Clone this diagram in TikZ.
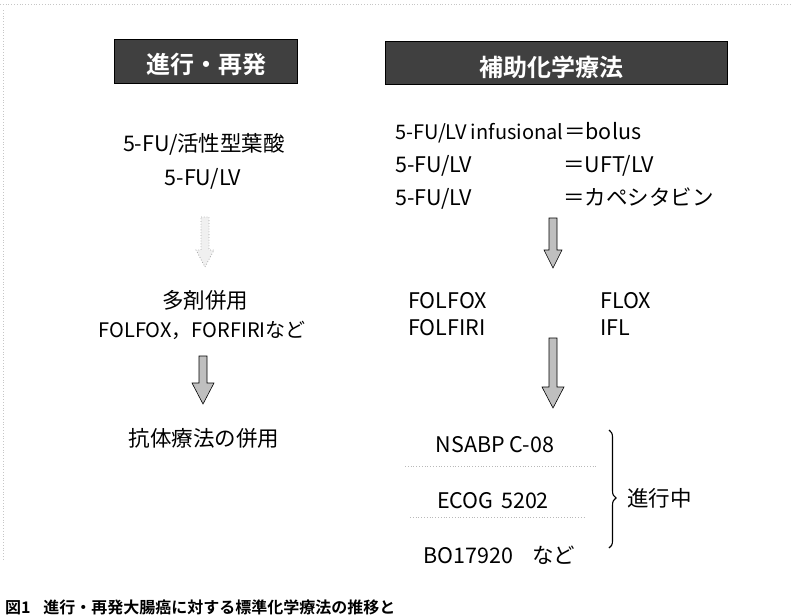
\documentclass[tikz,border=0pt]{standalone}
\usepackage{fontspec}
\setmainfont{Noto Sans CJK JP}[BoldFont={Noto Sans CJK JP Bold}]
\usetikzlibrary{decorations.pathreplacing}
\tikzset{
  txt/.style={inner sep=0pt, font=\fontsize{21.5}{24}\selectfont, text=black},
  smalltxt/.style={inner sep=0pt, font=\fontsize{20}{22}\selectfont, text=black},
  hdrbox/.style={fill=black!75, draw=black, line width=0.8pt},
  hdrtxt/.style={inner sep=0pt, text=white, font=\fontsize{24}{26}\selectfont\bfseries},
  blkarrow/.style={fill=gray!50, draw=black, line width=0.6pt, line join=miter},
  faintarrow/.style={fill=gray!12, draw=gray!70, dotted, line width=0.8pt},
  sep/.style={draw=gray!55, dotted, line width=0.8pt},
  noise/.style={draw=gray!45, dotted, line width=0.8pt},
  captxt/.style={inner sep=0pt, font=\fontsize{16}{18}\selectfont\bfseries, text=black}
}
\newcommand\blockarr[6][blkarrow]{%
  \draw[#1] (#2-4,#3) -- (#2+4,#3) -- (#2+4,#4) -- (#2+#6,#4) -- (#2,#5) -- (#2-#6,#4) -- (#2-4,#4) -- cycle;}
\begin{document}
\begin{tikzpicture}[x=1pt,y=-1pt]
\useasboundingbox (0,0) rectangle (791,614);
% scan border remnants
\coordinate (tl) at (0,4); \coordinate (tr) at (791,4);
\coordinate (lt) at (3,10); \coordinate (lb) at (3,560);
\draw[noise] (tl) -- (tr);
\draw[noise] (lt) -- (lb);
% headers
\draw[hdrbox] (114,39) rectangle (297,83);
\node[hdrtxt] (h1) at (206,64) {進行・再発};
\draw[hdrbox] (385,41) rectangle (727,84);
\node[hdrtxt] (h2) at (551,67) {補助化学療法};
% left column
\node[txt, anchor=base] (l1) at (204,151) {5-FU/活性型葉酸};
\node[txt, anchor=base] (l2) at (203,185) {5-FU/LV};
\blockarr[faintarrow]{205}{217}{250}{267}{9}
\node[txt, anchor=base] (l3) at (205,308) {多剤併用};
\node[smalltxt, anchor=base] (l4) at (202,337) {FOLFOX，FORFIRIなど};
\blockarr{203}{356}{383}{404}{11}
\node[txt, anchor=base] (l5) at (204,446) {抗体療法の併用};
% right column
\node[smalltxt, anchor=base west] (r1a) at (395,139) {5-FU/LV infusional};
\node[txt, anchor=base west] (r1b) at (564,139) {＝bolus};
\node[txt, anchor=base west] (r2a) at (395,172) {5-FU/LV};
\node[txt, anchor=base west] (r2b) at (563,172) {＝UFT/LV};
\node[txt, anchor=base west] (r3a) at (395,205) {5-FU/LV};
\node[txt, anchor=base west] (r3b) at (563,205) {＝カペシタビン};
\blockarr{553}{218}{250}{268}{9}
\node[txt, anchor=base west] (r4a) at (408,308) {FOLFOX};
\node[txt, anchor=base west] (r4b) at (600,308) {FLOX};
\node[txt, anchor=base west] (r5a) at (408,335) {FOLFIRI};
\node[txt, anchor=base west] (r5b) at (600,335) {IFL};
\blockarr{553}{338}{387}{408}{11}
\node[txt, anchor=base] (t1) at (495,452) {NSABP C-08};
\coordinate (s1a) at (405,466); \coordinate (s1b) at (597,466);
\draw[sep] (s1a) -- (s1b);
\node[txt, anchor=base] (t2) at (493,508) {ECOG\hspace{0.35em}5202};
\coordinate (s2a) at (410,517); \coordinate (s2b) at (585,517);
\draw[sep] (s2a) -- (s2b);
\node[txt, anchor=base west] (t3) at (423,563) {BO17920\hspace{0.9em}など};
% brace
\coordinate (b1) at (609,430); \coordinate (b2) at (609,548);
\draw[line width=1.1pt, decorate, decoration={brace, amplitude=7pt, aspect=0.576}] (b1) -- (b2);
\node[txt, anchor=base west] (prog) at (627,506) {進行中};
% caption (at the bottom edge, as in the reference)
\node[captxt, anchor=base west] (cap) at (5,613) {図1\hspace{0.8em}進行・再発大腸癌に対する標準化学療法の推移と};
\end{tikzpicture}
\end{document}
